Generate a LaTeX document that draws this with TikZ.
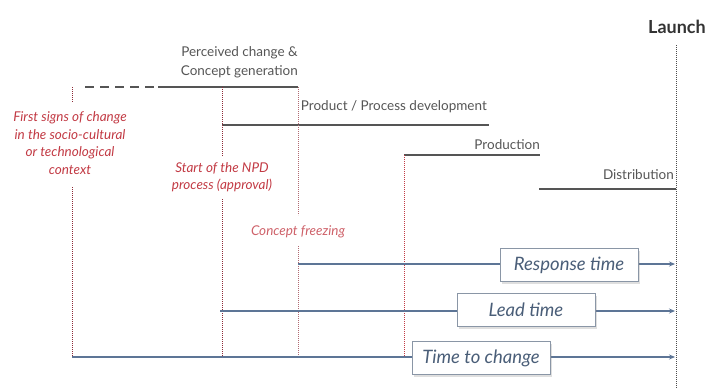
\documentclass[tikz,border=0pt]{standalone}
\usepackage{fontspec}
\setmainfont{Lato}
\usetikzlibrary{shadows,arrows.meta}
\definecolor{phase}{HTML}{555555}
\definecolor{mile}{HTML}{C23A44}
\definecolor{mileline}{HTML}{8E2A36}
\definecolor{span}{HTML}{5D7596}
\definecolor{boxline}{HTML}{8A96A6}
\begin{document}
\begin{tikzpicture}[x=1pt,y=-1pt,
  phasebar/.style={draw=phase,line width=1.4pt},
  phaselabel/.style={text=phase,font=\fontsize{13.5}{18.5}\selectfont,inner sep=0pt,align=right},
  milelabel/.style={text=mile,font=\fontsize{13.5}{17.5}\selectfont\itshape,inner sep=0pt,align=center},
  miledot/.style={draw=mileline,line width=0.9pt,dash pattern=on 0.9pt off 1.1pt},
  spanline/.style={draw=span,line width=1.3pt,-{Stealth[length=6pt,width=5pt]}},
  spanbox/.style={draw=boxline,fill=white,line width=0.8pt,minimum width=138pt,minimum height=33pt,
    inner sep=0pt,text=span!80!black,font=\fontsize{18.5}{20}\selectfont\itshape,
    drop shadow={shadow xshift=2pt,shadow yshift=-2pt,opacity=0.25}}]
\useasboundingbox (0,0) rectangle (707,388);

% key moments on the time axis
\coordinate (t0) at (72,87);
\coordinate (t1) at (222,87);
\coordinate (t2) at (298,87);
\coordinate (t3) at (404,155);
\coordinate (tL) at (676,45);

% launch marker
\node[font=\fontsize{18}{20}\selectfont\bfseries,text=black!80,anchor=south east,inner sep=0pt] (launch) at (706,34) {Launch};
\draw[draw=black!70,line width=0.9pt,dash pattern=on 0.9pt off 1.1pt] (tL) -- (676,388);

% phases
\node[phaselabel,anchor=south east] (perc) at (298,78) {Perceived change \&\\Concept generation};
\draw[phasebar,dash pattern=on 9pt off 6pt] (85,87) -- (155,87);
\coordinate (pcA) at (158,87);
\draw[phasebar] (pcA) -- (t2);

\coordinate (pdA) at (222,125);
\coordinate (pdB) at (489,125);
\draw[phasebar] (pdA) -- (pdB);
\node[phaselabel,anchor=south east] (pd) at (487,113) {Product / Process development};

\coordinate (prB) at (540,155);
\draw[phasebar] (t3) -- (prB);
\node[phaselabel,anchor=south east] (pr) at (540,150) {Production};

\coordinate (diA) at (539,189);
\coordinate (diB) at (676,189);
\draw[phasebar] (diA) -- (diB);
\node[phaselabel,anchor=south east] (di) at (674,180) {Distribution};

% milestones
\node[milelabel] (m0) at (70,143) {First signs of change\\in the socio-cultural\\or technological\\context};
\draw[miledot] (t0) -- (72,102);
\draw[miledot] (72,187) -- (72,357);

\node[milelabel] (m1) at (222,177) {Start of the NPD\\process (approval)};
\draw[miledot] (t1) -- (222,156);
\draw[miledot] (222,199) -- (222,357);

\node[milelabel,text=mile!80] (m2) at (298,232) {Concept freezing};
\draw[miledot,draw=mileline!70] (t2) -- (298,215);
\draw[miledot,draw=mileline!70] (298,246) -- (298,357);

\draw[miledot,draw=mile] (t3) -- (404,357);

% durations
\coordinate (rs) at (298,264);
\coordinate (re) at (675,264);
\coordinate (ls) at (220,311);
\coordinate (le) at (675,311);
\coordinate (cs) at (72,357);
\coordinate (ce) at (675,357);
\draw[spanline] (rs) -- (re);
\draw[spanline] (ls) -- (le);
\draw[spanline] (cs) -- (ce);
\node[spanbox] (resp) at (569,265) {Response time};
\node[spanbox] (lead) at (526,310) {Lead time};
\node[spanbox] (ttc) at (481,358) {Time to change};
\end{tikzpicture}
\end{document}
